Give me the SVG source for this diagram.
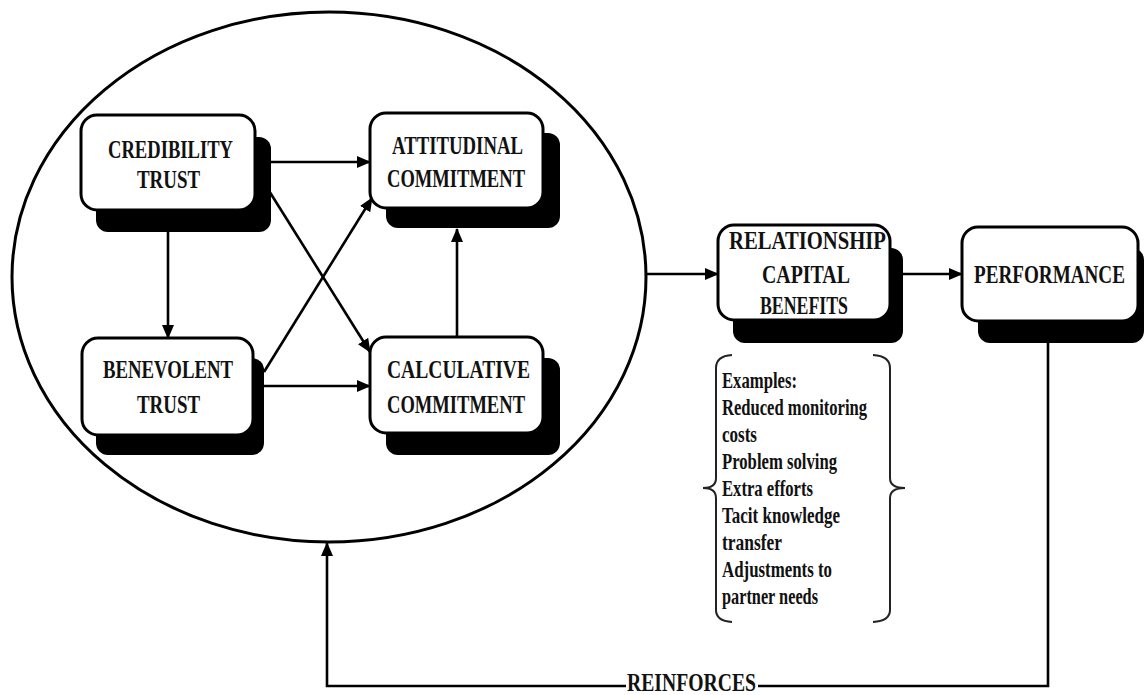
<svg xmlns="http://www.w3.org/2000/svg" width="1144" height="695" viewBox="0 0 1144 695">
<style>
.box{fill:#fff;stroke:#000;stroke-width:3}
.sh{fill:#000}
.lbl{font-family:"Liberation Serif","Times New Roman",serif;font-weight:bold;font-size:25px;fill:#111}
.ex{font-family:"Liberation Serif","Times New Roman",serif;font-weight:bold;font-size:23px;fill:#111}
.ln{fill:none;stroke:#000;stroke-width:2.6}
.br{fill:none;stroke:#222;stroke-width:2}
</style>
<defs>
<marker id="ah" viewBox="0 0 14 12" refX="13" refY="6" markerWidth="14" markerHeight="12" markerUnits="userSpaceOnUse" orient="auto">
<path d="M0,0 L14,6 L0,12 Z" fill="#000"/>
</marker>
</defs>
<rect width="1144" height="695" fill="#fff"/>
<ellipse id="trust-commitment-ellipse" cx="329" cy="277" rx="317" ry="265" fill="none" stroke="#000" stroke-width="3"/>

<g id="credibility-trust">
<rect class="sh" x="96" y="137" width="175" height="95" rx="12"/>
<rect class="box" x="81" y="115" width="174" height="95" rx="16"/>
<text class="lbl" x="108" y="158" textLength="125" lengthAdjust="spacingAndGlyphs">CREDIBILITY</text>
<text class="lbl" x="137" y="188" textLength="63" lengthAdjust="spacingAndGlyphs">TRUST</text>
</g>
<g id="attitudinal-commitment">
<rect class="sh" x="386" y="133" width="174" height="95" rx="12"/>
<rect class="box" x="370" y="113" width="173" height="95" rx="16"/>
<text class="lbl" x="392" y="154" textLength="131" lengthAdjust="spacingAndGlyphs">ATTITUDINAL</text>
<text class="lbl" x="387" y="187" textLength="138" lengthAdjust="spacingAndGlyphs">COMMITMENT</text>
</g>
<g id="benevolent-trust">
<rect class="sh" x="96" y="358" width="168" height="97" rx="12"/>
<rect class="box" x="82" y="338" width="171" height="97" rx="16"/>
<text class="lbl" x="103" y="378" textLength="130" lengthAdjust="spacingAndGlyphs">BENEVOLENT</text>
<text class="lbl" x="137" y="413" textLength="63" lengthAdjust="spacingAndGlyphs">TRUST</text>
</g>
<g id="calculative-commitment">
<rect class="sh" x="386" y="358" width="174" height="97" rx="12"/>
<rect class="box" x="370" y="337" width="173" height="96" rx="16"/>
<text class="lbl" x="387" y="378" textLength="143" lengthAdjust="spacingAndGlyphs">CALCULATIVE</text>
<text class="lbl" x="387" y="413" textLength="138" lengthAdjust="spacingAndGlyphs">COMMITMENT</text>
</g>
<g id="relationship-capital-benefits">
<rect class="sh" x="733" y="248" width="170" height="95" rx="12"/>
<rect class="box" x="718" y="225" width="172" height="95" rx="16"/>
<text class="lbl" x="729" y="249" textLength="157" lengthAdjust="spacingAndGlyphs">RELATIONSHIP</text>
<text class="lbl" x="762" y="283" textLength="88" lengthAdjust="spacingAndGlyphs">CAPITAL</text>
<text class="lbl" x="760" y="314" textLength="88" lengthAdjust="spacingAndGlyphs">BENEFITS</text>
</g>
<g id="performance">
<rect class="sh" x="978" y="248" width="166" height="95" rx="12"/>
<rect class="box" x="962" y="227" width="176" height="94" rx="16"/>
<text class="lbl" transform="translate(974,283) scale(0.766,1)" x="0" y="0">PERFORMANCE</text>
</g>

<g id="examples">
<path class="br" d="M732,355 Q716,356 716,368 L716,478 Q716,488 703,488 Q716,488 716,498 L716,610 Q716,621 732,622"/>
<path class="br" d="M873,355 Q890,356 890,368 L890,478 Q890,488 905,488 Q890,488 890,498 L890,610 Q890,621 873,622"/>
<text class="ex" x="722" y="388" textLength="75" lengthAdjust="spacingAndGlyphs">Examples:</text>
<text class="ex" x="722" y="415" textLength="145" lengthAdjust="spacingAndGlyphs">Reduced monitoring</text>
<text class="ex" x="722" y="442" textLength="35" lengthAdjust="spacingAndGlyphs">costs</text>
<text class="ex" x="722" y="469" textLength="115" lengthAdjust="spacingAndGlyphs">Problem solving</text>
<text class="ex" x="722" y="496" textLength="91" lengthAdjust="spacingAndGlyphs">Extra efforts</text>
<text class="ex" x="722" y="523" textLength="118" lengthAdjust="spacingAndGlyphs">Tacit knowledge</text>
<text class="ex" x="722" y="550" textLength="60" lengthAdjust="spacingAndGlyphs">transfer</text>
<text class="ex" x="722" y="577" textLength="110" lengthAdjust="spacingAndGlyphs">Adjustments to</text>
<text class="ex" x="722" y="604" textLength="96" lengthAdjust="spacingAndGlyphs">partner needs</text>
</g>

<g id="connectors">
<line class="ln" x1="270" y1="162" x2="370" y2="162" marker-end="url(#ah)"/>
<line class="ln" x1="168" y1="232" x2="168" y2="338" marker-end="url(#ah)"/>
<line class="ln" x1="266" y1="186" x2="370" y2="352" marker-end="url(#ah)"/>
<line class="ln" x1="264" y1="372" x2="372" y2="198" marker-end="url(#ah)"/>
<line class="ln" x1="264" y1="386" x2="370" y2="386" marker-end="url(#ah)"/>
<line class="ln" x1="457" y1="337" x2="457" y2="229" marker-end="url(#ah)"/>
<line class="ln" x1="646" y1="274" x2="718" y2="274" marker-end="url(#ah)"/>
<line class="ln" x1="903" y1="274" x2="962" y2="274" marker-end="url(#ah)"/>
<path class="ln" d="M1048,343 V686 H327 V543" marker-end="url(#ah)"/>
<rect x="626" y="674" width="132" height="20" fill="#fff"/>
<text class="lbl" x="627" y="691" font-size="22" textLength="129" lengthAdjust="spacingAndGlyphs">REINFORCES</text>
</g>
</svg>
